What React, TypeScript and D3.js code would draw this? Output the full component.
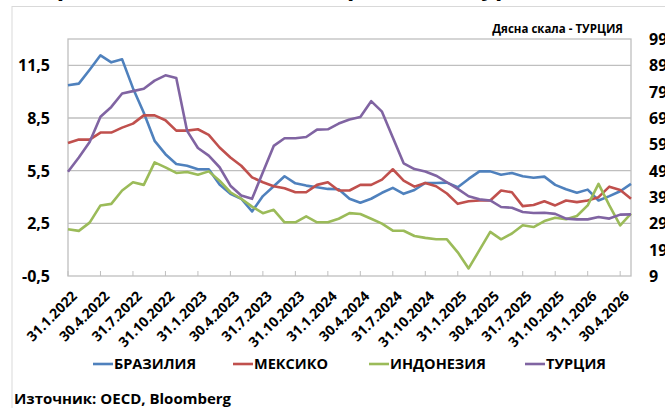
import React from 'react'
import * as d3 from 'd3'

const tickLabels = ['31.1.2022', '30.4.2022', '31.7.2022', '31.10.2022', '31.1.2023', '30.4.2023',
  '31.7.2023', '31.10.2023', '31.1.2024', '30.4.2024', '31.7.2024', '31.10.2024', '31.1.2025',
  '30.4.2025', '31.7.2025', '31.10.2025', '31.1.2026', '30.4.2026']

const brazil = [10.37, 10.46, 11.25, 12.07, 11.67, 11.84, 10.2, 8.8, 7.2, 6.44, 5.88, 5.78, 5.58, 5.58,
  4.71, 4.18, 3.9, 3.18, 4.05, 4.61, 5.18, 4.78, 4.65, 4.56, 4.46, 4.44, 3.9, 3.67, 3.9, 4.24, 4.52,
  4.18, 4.4, 4.8, 4.8, 4.82, 4.56, 5.03, 5.46, 5.46, 5.27, 5.37, 5.18, 5.1, 5.16, 4.69, 4.44, 4.24,
  4.42, 3.8, 4.05, 4.33, 4.75]
const mexico = [7.07, 7.27, 7.27, 7.67, 7.67, 7.95, 8.18, 8.65, 8.65, 8.37, 7.78, 7.78, 7.86, 7.54,
  6.82, 6.25, 5.78, 5.12, 4.84, 4.61, 4.5, 4.27, 4.27, 4.69, 4.84, 4.37, 4.37, 4.69, 4.69, 4.99, 5.58,
  4.93, 4.59, 4.8, 4.61, 4.2, 3.61, 3.76, 3.8, 3.8, 4.37, 4.27, 3.48, 3.54, 3.76, 3.52, 3.8, 3.71,
  3.8, 3.99, 4.59, 4.4, 3.9]
const indonesia = [2.16, 2.07, 2.54, 3.52, 3.61, 4.37, 4.84, 4.69, 5.97, 5.69, 5.37, 5.42, 5.27, 5.46,
  4.93, 4.27, 3.9, 3.45, 3.08, 3.27, 2.56, 2.56, 2.9, 2.56, 2.56, 2.76, 3.08, 3.03, 2.76, 2.48, 2.08,
  2.08, 1.78, 1.67, 1.59, 1.59, 0.85, -0.07, 0.97, 2.01, 1.59, 1.92, 2.39, 2.29, 2.63, 2.82, 2.73,
  2.92, 3.52, 4.75, 3.52, 2.39, 3.05]
// дясна скала
const turkey = [48.6, 54.0, 59.9, 69.5, 73.2, 78.3, 79.2, 80.1, 83.2, 85.2, 84.2, 64.1, 57.6, 54.7,
  50.3, 43.3, 39.6, 38.3, 48.4, 58.4, 61.3, 61.3, 61.8, 64.6, 64.7, 66.9, 68.4, 69.4, 75.4, 71.4,
  61.6, 51.8, 49.6, 48.7, 47.1, 44.6, 42.1, 39.3, 38.1, 37.7, 35.2, 34.9, 33.3, 32.9, 33.0, 32.6,
  30.8, 30.5, 30.5, 31.4, 30.8, 32.3, 32.4]

const leftTicks = [-0.5, 2.5, 5.5, 8.5, 11.5]
const rightTicks = [9, 19, 29, 39, 49, 59, 69, 79, 89, 99]

const series = [
  { name: 'БРАЗИЛИЯ', values: brazil, color: '#4F81BD', right: false },
  { name: 'МЕКСИКО', values: mexico, color: '#C0504D', right: false },
  { name: 'ИНДОНЕЗИЯ', values: indonesia, color: '#9BBB59', right: false },
  { name: 'ТУРЦИЯ', values: turkey, color: '#8064A2', right: true },
]

const font = '"Open Sans", sans-serif'

export default function App() {
  const left = 68, right = 631, top = 39, bottom = 276

  const x = d3.scaleLinear().domain([0, brazil.length - 1]).range([left, right])
  const yL = d3.scaleLinear().domain([-0.5, 13]).range([bottom, top])
  const yR = d3.scaleLinear().domain([9, 99]).range([bottom, top])

  const legendX = [93, 233, 369, 525]

  return (
    <svg width={665} height={408} style={{ position: 'absolute', left: 0, top: 0, background: '#fff' }}
      fontFamily={font} fontWeight="bold">
      <text x={14} y={-5} fontSize={24}>Безработица, Мексико и Бразилия, Турция</text>
      <rect x={12} y={6.5} width={660} height={410} fill="#fff" stroke="#d9d9d9" strokeWidth={1} />

      <text x={623} y={33} fontSize={11.5} textAnchor="end">Дясна скала - ТУРЦИЯ</text>

      {leftTicks.slice(1).map(t => (
        <line key={t} x1={left} x2={right} y1={yL(t)} y2={yL(t)} stroke="#bfbfbf" strokeWidth={1.3} />
      ))}
      <rect x={left} y={top} width={right - left} height={bottom - top} fill="none" stroke="#bfbfbf" strokeWidth={1.3} />
      {tickLabels.map((l, k) => (
        <line key={l} x1={x(k * 3)} x2={x(k * 3)} y1={bottom - 5} y2={bottom} stroke="#bfbfbf" />
      ))}

      {leftTicks.map(t => (
        <text key={t} x={50} y={yL(t) + 6} fontSize={16} textAnchor="end">{String(t).replace('.', ',')}</text>
      ))}
      {rightTicks.map(t => (
        <text key={t} x={649} y={yR(t) + 6} fontSize={16}>{t}</text>
      ))}

      {tickLabels.map((l, k) => (
        <text key={l} fontSize={14} textAnchor="end"
          transform={`translate(${x(k * 3) + 10},${bottom + 21}) rotate(-45)`}>{l}</text>
      ))}

      {series.map(s => {
        const line = d3.line<number>()
          .x((d, i) => x(i))
          .y(d => (s.right ? yR(d) : yL(d)))
        return <path key={s.name} d={line(s.values) || ''} fill="none" stroke={s.color} strokeWidth={2.6}
          strokeLinejoin="round" />
      })}

      {series.map((s, k) => (
        <g key={s.name} transform={`translate(${legendX[k]},364)`}>
          <line x1={0} x2={20} y1={0} y2={0} stroke={s.color} strokeWidth={2.6} />
          <text x={21} y={5} fontSize={14.5}>{s.name}</text>
        </g>
      ))}

      <text x={14} y={404} fontSize={15}>Източник: OECD, Bloomberg</text>
    </svg>
  )
}
